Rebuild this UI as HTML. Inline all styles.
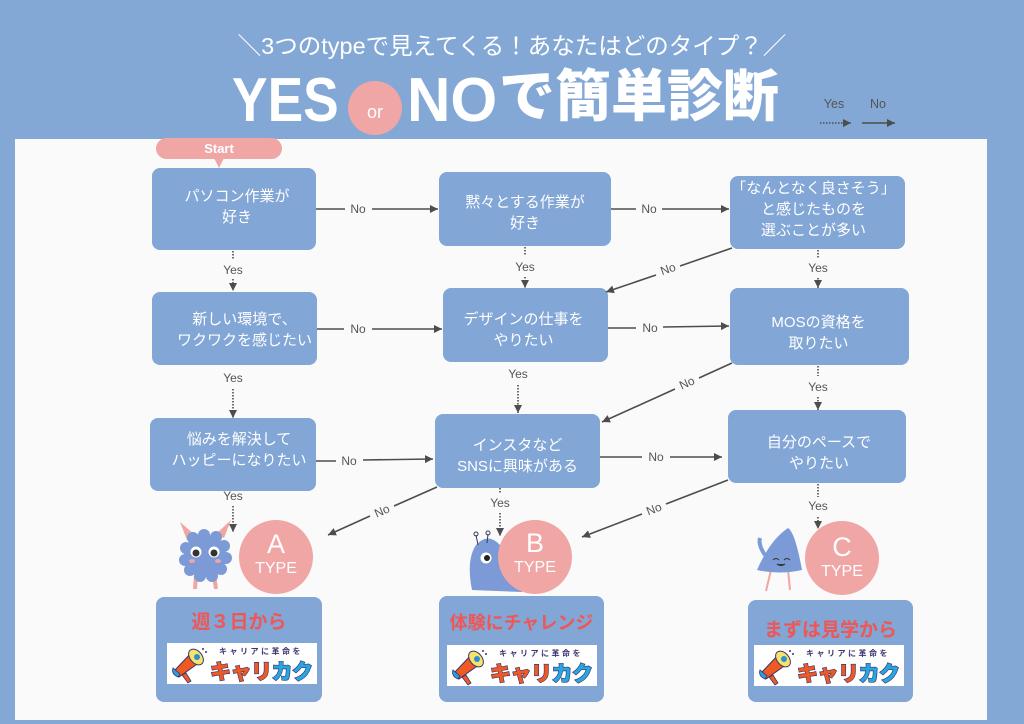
<!DOCTYPE html>
<html><head><meta charset="utf-8">
<style>
*{margin:0;padding:0;box-sizing:border-box}
body{width:1024px;height:724px;overflow:hidden;background:#84a8d6;position:relative;font-family:"Liberation Sans","Noto Sans CJK JP",sans-serif}
.abs{position:absolute}
.panel{left:15px;top:139px;width:972px;height:581px;background:#fafafa}
.box{position:absolute;background:#82a6d6;border-radius:8px}
.bt{position:absolute;color:#fff;font-size:15px;line-height:21px;text-align:center;white-space:nowrap}
.sub{left:0;top:31px;width:1024px;text-align:center;color:#fff;font-size:23.5px;line-height:30px;font-family:"Liberation Sans","Noto Sans CJK JP",sans-serif}
.big{color:#fff;font-weight:bold;line-height:62px;white-space:nowrap}
.circ{position:absolute;border-radius:50%;background:#f0a6a4;color:#fff;text-align:center}
.red{position:absolute;color:#ef5656;font-weight:bold;text-align:center;white-space:nowrap;font-family:"Liberation Sans","Noto Sans CJK JP",sans-serif}
</style></head><body>
<div class="abs panel"></div>

<div class="abs sub">＼3つのtypeで見えてくる！あなたはどのタイプ？／</div>
<div class="abs big" style="left:232px;top:70px;font-size:62px;transform:scaleX(0.86);transform-origin:0 0;">YES</div>
<div class="abs" style="left:348px;top:81px;width:54px;height:54px;border-radius:50%;background:#f0a6a4;color:#fff;font-size:18px;line-height:54px;text-align:center;padding-top:4px;">or</div>
<div class="abs big" style="left:407px;top:70px;font-size:62px;transform:scaleX(0.97);transform-origin:0 0;">NO</div>
<div class="abs big" style="left:499px;top:65px;font-size:56px;line-height:56px;font-family:'Noto Sans CJK JP',sans-serif;font-weight:900;">で簡単診断</div>

<!-- Start tab -->
<div class="abs" style="left:156px;top:138px;width:126px;height:21px;border-radius:11px;background:#f0a6a4;color:#fff;font-size:13px;line-height:21px;text-align:center;font-weight:bold;">Start</div>
<svg class="abs" style="left:210px;top:158px" width="18" height="12"><polygon points="4,0 14,0 9,10" fill="#f0a6a4"/></svg>

<!-- boxes -->
<div class="box" style="left:152px;top:168px;width:164px;height:82px"></div>
<div class="bt" style="left:152px;width:170px;top:186px">パソコン作業が<br>好き</div>
<div class="box" style="left:439px;top:172px;width:172px;height:74px"></div>
<div class="bt" style="left:439px;width:172px;top:192px">黙々とする作業が<br>好き</div>
<div class="box" style="left:730px;top:176px;width:175px;height:73px"></div>
<div class="bt" style="left:726px;width:175px;top:178px">「なんとなく良さそう」<br>と感じたものを<br>選ぶことが多い</div>

<div class="box" style="left:152px;top:292px;width:165px;height:73px"></div>
<div class="bt" style="left:162px;width:165px;top:309px">新しい環境で、<br>ワクワクを感じたい</div>
<div class="box" style="left:443px;top:288px;width:165px;height:74px"></div>
<div class="bt" style="left:441px;width:165px;top:309px">デザインの仕事を<br>やりたい</div>
<div class="box" style="left:730px;top:288px;width:179px;height:77px"></div>
<div class="bt" style="left:729px;width:179px;top:312px">MOSの資格を<br>取りたい</div>

<div class="box" style="left:150px;top:418px;width:166px;height:73px"></div>
<div class="bt" style="left:156px;width:166px;top:429px">悩みを解決して<br>ハッピーになりたい</div>
<div class="box" style="left:435px;top:414px;width:165px;height:74px"></div>
<div class="bt" style="left:435px;width:165px;top:435px">インスタなど<br>SNSに興味がある</div>
<div class="box" style="left:728px;top:410px;width:178px;height:73px"></div>
<div class="bt" style="left:730px;width:178px;top:432px">自分のペースで<br>やりたい</div>

<!-- bottom boxes -->
<div class="box" style="left:156px;top:597px;width:166px;height:105px"></div>
<div class="box" style="left:439px;top:596px;width:165px;height:106px"></div>
<div class="box" style="left:748px;top:600px;width:165px;height:102px"></div>
<div class="red" style="left:156px;width:166px;top:610px;font-size:19px;line-height:26px;">週３日から</div>
<div class="red" style="left:439px;width:165px;top:610px;font-size:18px;line-height:26px;">体験にチャレンジ</div>
<div class="red" style="left:748px;width:165px;top:618px;font-size:19px;line-height:26px;">まずは見学から</div>

<svg class="abs" style="left:0;top:0" width="1024" height="724">
<defs>
<marker id="ah" markerUnits="userSpaceOnUse" markerWidth="9" markerHeight="9" refX="8" refY="4" orient="auto"><path d="M0,0 L8,4 L0,8 z" fill="#4d4d4d"/></marker>
<clipPath id="lc"><rect x="0" y="0" width="150" height="41"/></clipPath>
<g id="logo">
<rect x="0" y="0" width="150" height="41" fill="#fff"/>
<g clip-path="url(#lc)">
<g transform="translate(3,3)">
<path d="M5,24 L22,6 L30,16 L9,31 Z" fill="#ef5a22" stroke="#3b3570" stroke-width="1"/>
<ellipse cx="26" cy="11" rx="6" ry="9" transform="rotate(-40 26 11)" fill="#f7e36a" stroke="#3b3570" stroke-width="1"/>
<circle cx="27" cy="11" r="3" fill="#2a8fd6"/>
<path d="M3,22 Q1,28 8,31 L10,28 Z" fill="#2a9fe0" stroke="#3b3570" stroke-width="0.8"/>
<path d="M12,29 L18,37 L21,35 L16,27 Z" fill="#ef5a22" stroke="#3b3570" stroke-width="0.8"/>
<circle cx="33" cy="3" r="1" fill="#3b3570"/><circle cx="36" cy="6" r="1" fill="#3b3570"/>
</g>
<text x="94" y="11" font-size="8" fill="#3b3570" text-anchor="middle" letter-spacing="2.5" font-family="'Noto Sans CJK JP',sans-serif" font-weight="bold">キャリアに革命を</text>
<text x="43" y="36" font-size="21" font-weight="900" font-family="'Noto Sans CJK JP',sans-serif" stroke="#3b3570" stroke-width="1.3" paint-order="stroke" letter-spacing="-0.5"><tspan fill="#f05a22">キャリ</tspan><tspan fill="#27a6e0">カク</tspan></text>
</g>
</g>
</defs>

<g stroke="#4d4d4d" stroke-width="1.6" fill="none">
<!-- row1 -->
<line x1="316" y1="209" x2="345" y2="209"/><line x1="372" y1="209" x2="438" y2="209" marker-end="url(#ah)"/>
<line x1="611" y1="209" x2="636" y2="209"/><line x1="662" y1="209" x2="729" y2="209" marker-end="url(#ah)"/>
<line x1="732" y1="248" x2="680" y2="266"/><line x1="656" y1="275" x2="606" y2="292" marker-end="url(#ah)"/>
<!-- row2 -->
<line x1="317" y1="329" x2="344" y2="329"/><line x1="372" y1="329" x2="442" y2="329" marker-end="url(#ah)"/>
<line x1="608" y1="328" x2="636" y2="328"/><line x1="663" y1="327" x2="729" y2="326" marker-end="url(#ah)"/>
<line x1="732" y1="363" x2="699" y2="378"/><line x1="675" y1="389" x2="602" y2="422" marker-end="url(#ah)"/>
<!-- row3 -->
<line x1="316" y1="461" x2="336" y2="461"/><line x1="363" y1="460" x2="433" y2="459" marker-end="url(#ah)"/>
<line x1="600" y1="457" x2="642" y2="457"/><line x1="670" y1="457" x2="722" y2="457" marker-end="url(#ah)"/>
<line x1="437" y1="487" x2="394" y2="506"/><line x1="370" y1="516" x2="328" y2="535" marker-end="url(#ah)"/>
<line x1="728" y1="480" x2="666" y2="504"/><line x1="642" y1="514" x2="582" y2="537" marker-end="url(#ah)"/>
<!-- legend solid -->
<line x1="862" y1="123" x2="895" y2="123" marker-end="url(#ah)"/>
</g>
<g stroke="#4d4d4d" stroke-width="1.6" fill="none" stroke-dasharray="1.5 1.5">
<line x1="233" y1="251" x2="233" y2="259"/><line x1="233" y1="279" x2="233" y2="291" marker-end="url(#ah)"/>
<line x1="525" y1="247" x2="525" y2="255"/><line x1="525" y1="277" x2="525" y2="288" marker-end="url(#ah)"/>
<line x1="818" y1="250" x2="818" y2="258"/><line x1="818" y1="278" x2="818" y2="288" marker-end="url(#ah)"/>
<line x1="233" y1="389" x2="233" y2="418" marker-end="url(#ah)"/>
<line x1="518" y1="385" x2="518" y2="413" marker-end="url(#ah)"/>
<line x1="818" y1="366" x2="818" y2="376"/><line x1="818" y1="397" x2="818" y2="410" marker-end="url(#ah)"/>
<line x1="233" y1="506" x2="233" y2="532" marker-end="url(#ah)"/>
<line x1="500" y1="488" x2="500" y2="493"/><line x1="500" y1="513" x2="500" y2="536" marker-end="url(#ah)"/>
<line x1="818" y1="484" x2="818" y2="497"/><line x1="818" y1="517" x2="818" y2="529" marker-end="url(#ah)"/>
<line x1="820" y1="123" x2="851" y2="123" marker-end="url(#ah)"/>
</g>

<g fill="#555" font-size="12" font-family="'Liberation Sans','Noto Sans CJK JP',sans-serif" text-anchor="middle" dominant-baseline="central">
<text x="358" y="209">No</text><text x="649" y="209">No</text>
<text x="668" y="269" transform="rotate(-19.3 668 269)">No</text>
<text x="358" y="329">No</text><text x="650" y="328">No</text>
<text x="687" y="383" transform="rotate(-24.4 687 383)">No</text>
<text x="349" y="461">No</text><text x="656" y="457">No</text>
<text x="382" y="511" transform="rotate(-23.8 382 511)">No</text>
<text x="654" y="509" transform="rotate(-21.3 654 509)">No</text>
<text x="233" y="270">Yes</text><text x="525" y="267">Yes</text><text x="818" y="268">Yes</text>
<text x="233" y="378">Yes</text><text x="518" y="374">Yes</text><text x="818" y="387">Yes</text>
<text x="233" y="496">Yes</text><text x="500" y="503">Yes</text><text x="818" y="506">Yes</text>
<text x="834" y="104" font-size="12.5">Yes</text><text x="878" y="104" font-size="12.5">No</text>
</g>

<!-- characters -->
<!-- A monster -->
<g>
<path d="M187,540 L180,522 L195,535 Z" fill="#f0a6a4"/>
<path d="M224,538 L231,520 L216,534 Z" fill="#f0a6a4"/>
<line x1="196" y1="575" x2="195" y2="589" stroke="#f0a6a4" stroke-width="4"/>
<line x1="214" y1="575" x2="216" y2="589" stroke="#f0a6a4" stroke-width="4"/>
<g fill="#7b9ad6">
<circle cx="205" cy="556" r="21"/>
<circle cx="186" cy="548" r="6"/><circle cx="185" cy="560" r="6"/><circle cx="190" cy="570" r="6"/>
<circle cx="200" cy="576" r="6"/><circle cx="212" cy="576" r="6"/><circle cx="221" cy="569" r="6"/>
<circle cx="226" cy="558" r="6"/><circle cx="224" cy="546" r="6"/><circle cx="216" cy="537" r="6"/>
<circle cx="204" cy="535" r="6"/><circle cx="193" cy="538" r="6"/>
</g>
<circle cx="196" cy="552" r="5.5" fill="#fff"/><circle cx="214" cy="552" r="5.5" fill="#fff"/>
<circle cx="196" cy="553" r="3.5" fill="#333"/><circle cx="214" cy="553" r="3.5" fill="#333"/>
<ellipse cx="192" cy="561" rx="3" ry="2" fill="#f0a6a4"/><ellipse cx="218" cy="561" rx="3" ry="2" fill="#f0a6a4"/>
</g>
<!-- B snail -->
<g>
<path d="M472,590 Q466,560 476,545 Q488,532 500,545 Q508,560 505,575 L520,580 L522,592 Z" fill="#7b9ad6"/>
<line x1="478" y1="545" x2="476" y2="535" stroke="#3a3a5a" stroke-width="1"/><circle cx="476" cy="534" r="2" fill="none" stroke="#3a3a5a"/>
<line x1="487" y1="543" x2="488" y2="534" stroke="#3a3a5a" stroke-width="1"/><circle cx="488" cy="533" r="2" fill="none" stroke="#3a3a5a"/>
<circle cx="486" cy="558" r="5.5" fill="#fff"/><circle cx="487" cy="558" r="3" fill="#222"/>
</g>
<!-- C triangle -->
<g>
<line x1="771" y1="570" x2="766" y2="591" stroke="#f0a6a4" stroke-width="2"/>
<line x1="788" y1="570" x2="790" y2="590" stroke="#f0a6a4" stroke-width="2"/>
<path d="M788,528 Q795,532 802,570 Q780,575 757,570 Q770,540 788,528 Z" fill="#7b9ad6"/>
<path d="M765,555 Q758,545 760,538" stroke="#7b9ad6" stroke-width="4" fill="none"/>
<path d="M773,560 q3,-3 6,0 M784,560 q3,-3 6,0" stroke="#333" stroke-width="1" fill="none"/>
<path d="M777,564 q4,3 8,0" stroke="#333" stroke-width="1.2" fill="#333"/>
</g>

<!-- logos -->
<use href="#logo" x="167" y="643"/>
<use href="#logo" x="447" y="645"/>
<use href="#logo" x="754" y="645"/>
</svg>

<!-- type circles -->
<div class="circ" style="left:239px;top:520px;width:74px;height:74px;">
<div style="font-size:27px;line-height:30px;padding-top:9px;">A</div><div style="font-size:16px;line-height:20px;">TYPE</div></div>
<div class="circ" style="left:498px;top:520px;width:74px;height:74px;">
<div style="font-size:27px;line-height:30px;padding-top:8px;">B</div><div style="font-size:16px;line-height:20px;">TYPE</div></div>
<div class="circ" style="left:805px;top:521px;width:74px;height:74px;">
<div style="font-size:27px;line-height:30px;padding-top:11px;">C</div><div style="font-size:16px;line-height:20px;">TYPE</div></div>
</body></html>
